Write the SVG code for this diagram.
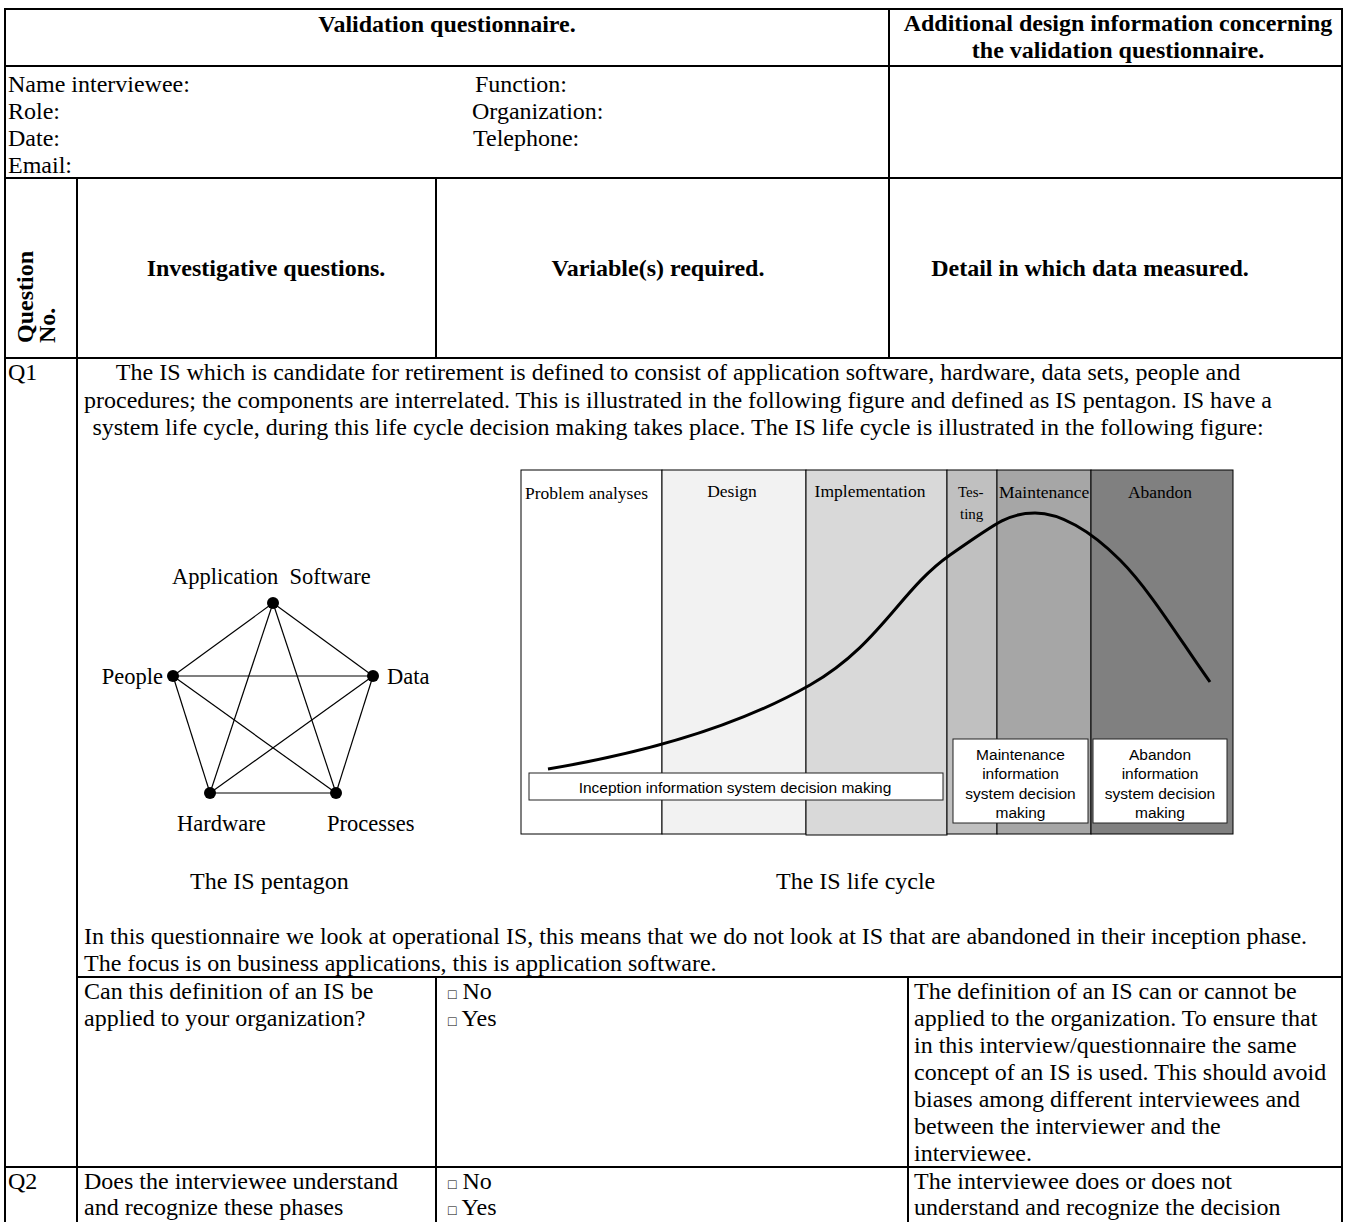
<svg xmlns="http://www.w3.org/2000/svg" width="1347" height="1222" viewBox="0 0 1347 1222">
  <style>
    .t { font-family: "Liberation Serif", "Times New Roman", serif; font-size: 24px; fill: #000; }
    .b { font-weight: bold; }
    .mid { text-anchor: middle; }
    .end { text-anchor: end; }
    .box { font-size: 14px; }
    .grid line { stroke: #000; stroke-width: 2; }
    .phase { stroke: #000; stroke-width: 1; }
    .ph { font-family: "Liberation Serif", "Times New Roman", serif; font-size: 17.5px; fill: #000; }
    .note { fill: #fff; stroke: #222; stroke-width: 1; }
    .ns { font-family: "Liberation Sans", Arial, sans-serif; font-size: 15.5px; fill: #000; text-anchor: middle; }
    .edge { stroke: #000; stroke-width: 1.2; }
    .dot { fill: #000; }
    .pl { font-family: "Liberation Serif", "Times New Roman", serif; font-size: 22.5px; fill: #000; }
  </style>

  <rect x="0" y="0" width="1347" height="1222" fill="#fff"/>

  <!-- table rules -->
  <g id="table-grid" class="grid">
    <line x1="4" y1="9" x2="1343" y2="9"/>
    <line x1="5" y1="8" x2="5" y2="1222"/>
    <line x1="1342" y1="8" x2="1342" y2="1222"/>
    <line x1="4" y1="66" x2="1343" y2="66"/>
    <line x1="4" y1="178" x2="1343" y2="178"/>
    <line x1="4" y1="358" x2="1343" y2="358"/>
    <line x1="889" y1="9" x2="889" y2="358"/>
    <line x1="77" y1="178" x2="77" y2="1222"/>
    <line x1="436" y1="178" x2="436" y2="358"/>
    <line x1="77" y1="977" x2="1343" y2="977"/>
    <line x1="4" y1="1167" x2="1343" y2="1167"/>
    <line x1="436" y1="977" x2="436" y2="1222"/>
    <line x1="908" y1="977" x2="908" y2="1222"/>
  </g>

  <!-- title row -->
  <g id="header">
    <text class="t b mid" x="447" y="32">Validation questionnaire.</text>
    <text class="t b mid" x="1118" y="31">Additional design information concerning</text>
    <text class="t b mid" x="1118" y="58">the validation questionnaire.</text>
  </g>

  <!-- interviewee details -->
  <g id="info">
    <text class="t" x="8" y="92">Name interviewee:</text>
    <text class="t" x="8" y="119">Role:</text>
    <text class="t" x="8" y="146">Date:</text>
    <text class="t" x="8" y="173">Email:</text>
    <text class="t" x="475" y="92">Function:</text>
    <text class="t" x="472" y="119">Organization:</text>
    <text class="t" x="473" y="146">Telephone:</text>
  </g>

  <!-- column headings -->
  <g id="column-heads">
    <text class="t b" transform="translate(33,343) rotate(-90)">Question</text>
    <text class="t b" transform="translate(55,343) rotate(-90)">No.</text>
    <text class="t b mid" x="266" y="276">Investigative questions.</text>
    <text class="t b mid" x="658" y="276">Variable(s) required.</text>
    <text class="t b mid" x="1090" y="276">Detail in which data measured.</text>
  </g>

  <!-- Q1 introduction -->
  <g id="q1-intro">
    <text class="t" x="8" y="380">Q1</text>
    <text class="t mid" x="678" y="380">The IS which is candidate for retirement is defined to consist of application software, hardware, data sets, people and</text>
    <text class="t mid" x="678" y="407.5">procedures; the components are interrelated. This is illustrated in the following figure and defined as IS pentagon. IS have a</text>
    <text class="t mid" x="678" y="435">system life cycle, during this life cycle decision making takes place. The IS life cycle is illustrated in the following figure:</text>
  </g>

  <!-- IS pentagon: edges -->
  <g id="connectors">
    <line class="edge" x1="273" y1="603" x2="173" y2="676"/>
    <line class="edge" x1="273" y1="603" x2="373" y2="676"/>
    <line class="edge" x1="273" y1="603" x2="210" y2="793"/>
    <line class="edge" x1="273" y1="603" x2="336" y2="793"/>
    <line class="edge" x1="173" y1="676" x2="373" y2="676"/>
    <line class="edge" x1="173" y1="676" x2="210" y2="793"/>
    <line class="edge" x1="173" y1="676" x2="336" y2="793"/>
    <line class="edge" x1="373" y1="676" x2="210" y2="793"/>
    <line class="edge" x1="373" y1="676" x2="336" y2="793"/>
    <line class="edge" x1="210" y1="793" x2="336" y2="793"/>
  </g>

  <!-- IS pentagon: nodes -->
  <g id="node-application-software">
    <circle class="dot" cx="273" cy="603" r="6"/>
    <text class="pl" x="172" y="584" xml:space="preserve">Application  Software</text>
  </g>
  <g id="node-people">
    <circle class="dot" cx="173" cy="676" r="6"/>
    <text class="pl end" x="163" y="684">People</text>
  </g>
  <g id="node-data">
    <circle class="dot" cx="373" cy="676" r="6"/>
    <text class="pl" x="387" y="684">Data</text>
  </g>
  <g id="node-hardware">
    <circle class="dot" cx="210" cy="793" r="6"/>
    <text class="pl" x="177" y="831">Hardware</text>
  </g>
  <g id="node-processes">
    <circle class="dot" cx="336" cy="793" r="6"/>
    <text class="pl" x="327" y="831">Processes</text>
  </g>

  <!-- IS life cycle chart -->
  <g id="lifecycle">
    <g id="phase-problem-analyses">
      <rect class="phase" x="521" y="470" width="141" height="364" fill="#fff"/>
      <text class="ph" x="525" y="499">Problem analyses</text>
    </g>
    <g id="phase-design">
      <rect class="phase" x="662" y="470" width="144" height="364" fill="#f2f2f2"/>
      <text class="ph mid" x="732" y="497">Design</text>
    </g>
    <g id="phase-implementation">
      <rect class="phase" x="806" y="470" width="141" height="365" fill="#d9d9d9"/>
      <text class="ph mid" x="870" y="497">Implementation</text>
    </g>
    <g id="phase-testing">
      <rect class="phase" x="947" y="470" width="50" height="364" fill="#c0c0c0"/>
      <text class="ph" x="958" y="497" style="font-size:15px">Tes-</text>
      <text class="ph" x="960" y="519" style="font-size:15px">ting</text>
    </g>
    <g id="phase-maintenance">
      <rect class="phase" x="997" y="470" width="94" height="364" fill="#a6a6a6"/>
    </g>
    <g id="phase-abandon">
      <rect class="phase" x="1091" y="470" width="142" height="364" fill="#808080"/>
      <text class="ph mid" x="1160" y="498">Abandon</text>
    </g>
    <text class="ph" x="999" y="498">Maintenance</text>

    <path d="M548,769 C650,752 740,725 810,685 S900,590 950,555 S1010,513 1035,513 S1090,530 1120,560 S1180,640 1210,682" fill="none" stroke="#000" stroke-width="3"/>

    <g id="note-inception">
      <rect class="note" x="529" y="773" width="414" height="27"/>
      <text class="ns" x="735" y="793">Inception information system decision making</text>
    </g>
    <g id="note-maintenance">
      <rect class="note" x="953" y="739" width="135" height="84"/>
      <text class="ns" x="1020.5" y="759.5">Maintenance</text>
      <text class="ns" x="1020.5" y="779">information</text>
      <text class="ns" x="1020.5" y="798.5">system decision</text>
      <text class="ns" x="1020.5" y="818">making</text>
    </g>
    <g id="note-abandon">
      <rect class="note" x="1093" y="739" width="134" height="84"/>
      <text class="ns" x="1160" y="759.5">Abandon</text>
      <text class="ns" x="1160" y="779">information</text>
      <text class="ns" x="1160" y="798.5">system decision</text>
      <text class="ns" x="1160" y="818">making</text>
    </g>
  </g>

  <!-- figure captions and remarks -->
  <g id="q1-remarks">
    <text class="t" x="190" y="889">The IS pentagon</text>
    <text class="t" x="776" y="889">The IS life cycle</text>
    <text class="t" x="84" y="944">In this questionnaire we look at operational IS, this means that we do not look at IS that are abandoned in their inception phase.</text>
    <text class="t" x="84" y="971">The focus is on business applications, this is application software.</text>
  </g>

  <!-- Q1 question row -->
  <g id="q1-row">
    <text class="t" x="84" y="998.5">Can this definition of an IS be</text>
    <text class="t" x="84" y="1025.5">applied to your organization?</text>
    <text class="t" x="448" y="998.5"><tspan class="box">□</tspan> No</text>
    <text class="t" x="448" y="1025.5"><tspan class="box">□</tspan> Yes</text>
    <text class="t" x="914" y="998.5">The definition of an IS can or cannot be</text>
    <text class="t" x="914" y="1025.5">applied to the organization. To ensure that</text>
    <text class="t" x="914" y="1052.5">in this interview/questionnaire the same</text>
    <text class="t" x="914" y="1079.5">concept of an IS is used. This should avoid</text>
    <text class="t" x="914" y="1106.5">biases among different interviewees and</text>
    <text class="t" x="914" y="1133.5">between the interviewer and the</text>
    <text class="t" x="914" y="1160.5">interviewee.</text>
  </g>

  <!-- Q2 row -->
  <g id="q2-row">
    <text class="t" x="8" y="1188.5">Q2</text>
    <text class="t" x="84" y="1188.5">Does the interviewee understand</text>
    <text class="t" x="84" y="1214.5">and recognize these phases</text>
    <text class="t" x="448" y="1188.5"><tspan class="box">□</tspan> No</text>
    <text class="t" x="448" y="1214.5"><tspan class="box">□</tspan> Yes</text>
    <text class="t" x="914" y="1188.5">The interviewee does or does not</text>
    <text class="t" x="914" y="1214.5">understand and recognize the decision</text>
  </g>
</svg>
